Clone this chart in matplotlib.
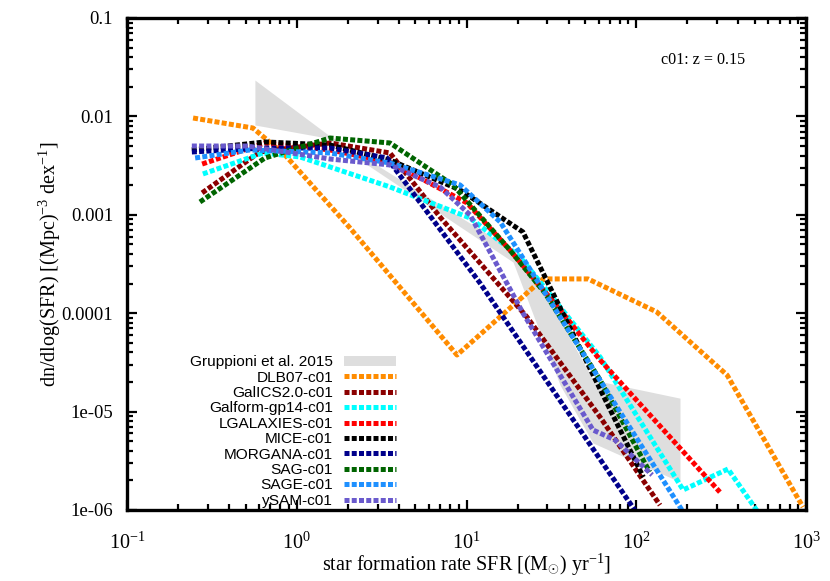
import numpy as np
import matplotlib
matplotlib.use('Agg')
import matplotlib.pyplot as plt
from matplotlib.patches import Patch
from matplotlib.lines import Line2D
from matplotlib.ticker import LogLocator, FixedLocator, FixedFormatter, NullFormatter

plt.rcParams['font.family'] = 'Liberation Serif'
plt.rcParams['mathtext.fontset'] = 'custom'
plt.rcParams['mathtext.rm'] = 'Liberation Serif'
plt.rcParams['mathtext.it'] = 'Liberation Serif:italic'

# Gruppioni et al. 2015 band
grup_x = [0.567, 1.51, 18.8, 35.6, 55.6, 181]
grup_hi = [0.0234, 0.00662, 4.39e-4, 8.53e-5, 2.1e-5, 1.37e-5]
grup_lo = [0.00818, 0.00603, 3.31e-4, 1.86e-5, 4.8e-6, 1.93e-6]

# model SFR functions
dlb07_x = [0.245, 0.552, 0.853, 2.06, 8.79, 28.2, 52.0, 132, 343, 960]
dlb07_y = [9.63e-3, 7.62e-3, 4.05e-3, 7.34e-4, 3.76e-5, 2.23e-4, 2.23e-4, 1.03e-4, 2.35e-5, 1.07e-6]

galics_x = [0.277, 0.607, 1.57, 3.54, 6.98, 22.7, 61.2, 138]
galics_y = [0.00167, 0.00435, 0.00537, 0.00425, 9.50e-4, 9.15e-5, 8.81e-6, 1.12e-6]

galform_x = [0.280, 0.633, 1.045, 3.54, 10.5, 20.7, 61.2, 189, 347, 536]
galform_y = [0.00260, 0.00425, 0.00387, 0.00192, 9.28e-4, 3.72e-4, 3.59e-5, 1.60e-6, 2.61e-6, 8.89e-7]

lgal_x = [0.277, 0.650, 1.57, 3.54, 10.07, 18.0, 35.6, 61.2, 311]
lgal_y = [0.00328, 0.00537, 0.00456, 0.00344, 0.00132, 4.39e-4, 1.08e-4, 3.35e-5, 1.52e-6]

mice_x = [0.241, 0.650, 1.57, 3.54, 9.16, 21.5, 110]
mice_y = [0.00456, 0.00550, 0.00512, 0.00360, 0.00179, 6.69e-4, 2.16e-6]

morgana_x = [0.241, 0.633, 1.57, 3.40, 12.0, 99.7]
morgana_y = [0.00435, 0.00477, 0.00477, 0.00378, 2.03e-4, 9.54e-7]

sag_x = [0.269, 0.650, 1.57, 3.54, 8.33, 18.0, 29.0, 61.2, 120]
sag_y = [0.00135, 0.00378, 0.00603, 0.00537, 0.00201, 4.39e-4, 1.60e-4, 2.10e-5, 2.43e-6]

sage_x = [0.252, 0.530, 1.57, 3.54, 9.16, 15.8, 189]
sage_y = [0.00378, 0.00456, 0.00425, 0.00336, 0.00201, 8.45e-4, 9.54e-7]

ysam_x = [0.241, 0.509, 1.57, 3.54, 6.98, 10.5, 21.5, 55.6, 75.0, 124]
ysam_y = [0.00500, 0.00500, 0.00369, 0.00321, 0.00192, 9.95e-4, 1.005e-4, 6.50e-6, 5.15e-6, 2.27e-6]

labels = ['DLB07-c01', 'GalICS2.0-c01', 'Galform-gp14-c01', 'LGALAXIES-c01', 'MICE-c01',
          'MORGANA-c01', 'SAG-c01', 'SAGE-c01', 'ySAM-c01']
colors = ['#ff8c00', '#8b0000', '#00ffff', '#ff0000', '#000000',
          '#00008b', '#006400', '#1e90ff', '#6a5acd']
xs = [dlb07_x, galics_x, galform_x, lgal_x, mice_x, morgana_x, sag_x, sage_x, ysam_x]
ys = [dlb07_y, galics_y, galform_y, lgal_y, mice_y, morgana_y, sag_y, sage_y, ysam_y]

fig = plt.figure(figsize=(8.3, 5.81), dpi=100)
ax = fig.add_axes([127 / 830, 1 - 510 / 581, (806 - 127) / 830, (510 - 18) / 581])

ax.fill_between(grup_x, grup_lo, grup_hi, color='#dedede', lw=0, zorder=1)

dots = (0, (1.0, 0.45))
handles = [Patch(facecolor='#dedede', edgecolor='none')]
for x, y, c, lab in zip(xs, ys, colors, labels):
    ax.plot(x, y, color=c, lw=3.6, linestyle=dots, zorder=2)
    handles.append(Line2D([], [], color=c, lw=3.6, linestyle=dots))

ax.set_xscale('log')
ax.set_yscale('log')
ax.set_xlim(0.1, 1000)
ax.set_ylim(1e-6, 0.1)

ax.yaxis.set_major_locator(FixedLocator([1e-6, 1e-5, 1e-4, 1e-3, 1e-2, 1e-1]))
ax.yaxis.set_major_formatter(FixedFormatter(['1e-06', '1e-05', '0.0001', '0.001', '0.01', '0.1']))
ax.yaxis.set_minor_locator(LogLocator(base=10, subs=np.arange(2, 10), numticks=20))
ax.yaxis.set_minor_formatter(NullFormatter())
ax.xaxis.set_minor_locator(LogLocator(base=10, subs=np.arange(2, 10), numticks=20))
ax.xaxis.set_minor_formatter(NullFormatter())

ax.tick_params(which='both', direction='in', top=True, right=True, width=1.6)
ax.tick_params(which='major', length=7)
ax.tick_params(which='minor', length=4)
ax.tick_params(axis='y', which='major', labelsize=13.5, pad=10)
ax.tick_params(axis='x', which='major', labelsize=14.5, pad=16)
for s in ax.spines.values():
    s.set_linewidth(2.4)

ax.set_xlabel(r'star formation rate SFR [(M$_{\odot}$) yr$^{-1}$]', fontsize=14.5, labelpad=-1)
ax.set_ylabel(r'dn/dlog(SFR) [(Mpc)$^{-3}$ dex$^{-1}$]', fontsize=14.5, labelpad=-1)

ax.text(0.849, 0.915, 'c01: z = 0.15', transform=ax.transAxes, ha='center', va='center', fontsize=11.6)

leg = ax.legend(handles, ['Gruppioni et al. 2015'] + labels, loc='lower right',
                bbox_to_anchor=(0.40, 0.0), frameon=False, markerfirst=False,
                prop={'family': 'Liberation Sans', 'size': 11.1},
                handlelength=3.4, handleheight=0.6, handletextpad=0.7,
                labelspacing=0.09, borderpad=0.15, borderaxespad=0.0)

fig.savefig('out.png', dpi=100)
